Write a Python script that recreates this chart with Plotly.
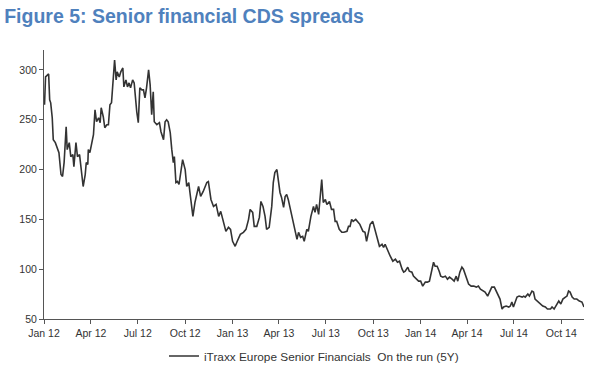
import pandas as pd
import plotly.graph_objects as go

day_offsets = [
    1, 3, 9, 11, 13, 16, 18, 22, 29, 33, 36, 39, 43, 45, 49, 52, 56, 58, 62, 65,
    69, 73, 76, 80, 82, 85, 86, 89, 93, 96, 99, 102, 106, 109, 111, 115, 118, 122,
    125, 128, 131, 135, 137, 140, 142, 146, 149, 153, 155, 159, 162, 165, 168, 172,
    175, 180, 183, 186, 190, 193, 196, 199, 203, 206, 209, 212, 214, 219, 224, 227,
    232, 235, 238, 241, 245, 248, 251, 253, 256, 259, 262,
    269, 274, 277, 281, 283, 289, 293, 300, 304, 309, 316, 319, 324, 329, 334, 339,
    343, 348, 353, 358, 362, 366, 371, 375, 381, 387, 392, 397, 400, 405, 408, 413,
    418, 421, 425, 429, 432, 437, 442, 445, 448, 452, 455, 458, 461, 465, 468, 471,
    474, 478, 483, 487, 491, 494, 498, 502, 505, 510, 513, 518, 523, 526, 529, 533,
    536, 539, 542, 546, 549, 554, 558, 562, 565, 568, 573, 578, 582, 588, 591, 594,
    597, 600, 605, 609, 613, 619, 623, 626, 630,
    633, 638, 643, 647, 651, 656, 659, 662, 667, 672, 677, 682, 686, 690, 695, 698,
    701, 706, 709, 714, 717, 722, 727, 731, 735, 740, 744, 748, 753, 756, 759, 763,
    767, 770, 774, 779, 783, 787, 792, 796, 800, 803, 807, 811, 814, 817, 821, 824,
    829, 834, 839, 843, 847, 852, 856, 861, 865, 869, 874, 878, 882, 885, 889, 892,
    897, 902, 905, 908, 911, 915, 918, 922, 928, 931, 934, 939, 942, 947, 950, 953,
    957, 961, 964, 968, 973, 977, 983, 986, 990, 994, 999, 1003, 1007, 1012, 1015,
    1018, 1021, 1025, 1029, 1034, 1039, 1044, 1048,
]

# iTraxx Europe Senior Financials 5Y spread (bp)
spreads = [
    265, 293, 296, 270, 267, 252, 230, 227, 217, 195, 193, 207, 243, 220, 227, 213, 215, 203, 227, 213,
    215, 197, 183, 195, 207, 205, 220, 217, 230, 235, 260, 248, 252, 247, 262, 253, 242, 245,
    245, 265, 267, 300, 310, 290, 298, 293, 298, 302, 283, 290, 283, 287, 282, 290,
    287, 258, 247, 282, 280, 280, 272, 282, 300, 285, 255, 278, 248, 245, 247, 238,
    230, 248, 250, 248, 237, 220, 207, 213, 187, 188, 185,
    210, 200, 183, 187, 178, 153, 167, 183, 173, 178, 187, 188, 170, 163, 165, 153,
    158, 148, 138, 142, 140, 128, 123, 128, 135, 137, 140, 150, 160, 157, 143, 143,
    152, 168, 163, 153, 140, 142, 163, 187, 197, 200, 190, 177, 172, 162, 173, 175,
    170, 160, 150, 137, 130, 137, 132, 133, 128, 140, 138, 153, 163, 157, 165, 155,
    177, 190, 167, 170, 165, 168, 160, 160, 148, 148, 140, 137, 137, 138, 143, 143,
    150, 148, 150, 147, 145, 138, 137, 128, 140,
    145, 148, 138, 133, 123, 125, 122, 125, 118, 113, 108, 110, 107, 108, 100, 97,
    98, 102, 98, 97, 93, 90, 88, 88, 83, 87, 87, 88, 100, 107, 103, 103,
    98, 93, 92, 93, 90, 92, 90, 88, 93, 88, 97, 102, 100, 95, 88, 85,
    83, 83, 82, 83, 80, 78, 77, 73, 77, 82, 82, 77, 73, 70, 60, 62,
    63, 62, 63, 67, 62, 67, 72, 73, 72, 73, 72, 75, 73, 78, 77, 70,
    68, 67, 65, 63, 62, 60, 60, 62, 60, 63, 68, 65, 70, 72, 73,
    78, 77, 72, 70, 70, 68, 67, 62,
]

tick_dates = ["2012-01-01", "2012-04-01", "2012-07-01", "2012-10-01",
              "2013-01-01", "2013-04-01", "2013-07-01", "2013-10-01",
              "2014-01-01", "2014-04-01", "2014-07-01", "2014-10-01"]
tick_labels = ["Jan 12", "Apr 12", "Jul 12", "Oct 12", "Jan 13", "Apr 13",
               "Jul 13", "Oct 13", "Jan 14", "Apr 14", "Jul 14", "Oct 14"]
y_ticks = [50, 100, 150, 200, 250, 300]

dates = pd.Timestamp("2012-01-01") + pd.to_timedelta(day_offsets, unit="D")

fig = go.Figure()
fig.add_trace(go.Scatter(
    x=dates, y=spreads, mode="lines",
    name="iTraxx Europe Senior Financials  On the run (5Y)",
    line=dict(color="#333333", width=1.6),
))

axis_font = dict(family="Liberation Sans, Arial, sans-serif", size=10.5, color="#333333")

fig.update_layout(
    width=600, height=380,
    margin=dict(l=44, r=16, t=50, b=61, autoexpand=False),
    paper_bgcolor="white", plot_bgcolor="white",
    title=dict(
        text="<b>Figure 5: Senior financial CDS spreads</b>",
        x=0.007, xanchor="left", xref="container",
        y=0.958, yanchor="middle", yref="container",
        font=dict(family="Liberation Sans, Arial, sans-serif", size=19.5, color="#4F81BD"),
    ),
    showlegend=True,
    legend=dict(
        orientation="h", x=0.5, xanchor="center",
        y=0.063, yanchor="middle", yref="container",
        font=dict(family="Liberation Sans, Arial, sans-serif", size=11.8, color="#333333"),
        bgcolor="rgba(0,0,0,0)",
    ),
    xaxis=dict(
        type="date",
        range=["2012-01-01", "2014-11-14"],
        tickvals=tick_dates, ticktext=tick_labels,
        showline=True, linecolor="#555555", linewidth=1,
        ticks="outside", ticklen=4, tickcolor="#555555",
        showgrid=False, zeroline=False, automargin=False,
        tickfont=axis_font,
    ),
    yaxis=dict(
        range=[50, 320],
        tickvals=y_ticks,
        showline=True, linecolor="#555555", linewidth=1,
        ticks="outside", ticklen=4, tickcolor="#555555",
        showgrid=False, zeroline=False, automargin=False,
        tickfont=axis_font,
    ),
)

fig.write_html("out.html", config={"displayModeBar": False},
               post_script="document.body.style.margin='0';")
